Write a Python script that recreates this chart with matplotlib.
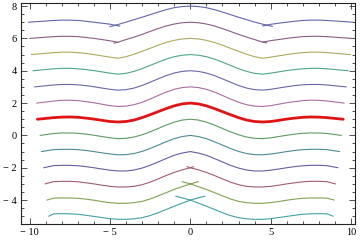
import numpy as np
import matplotlib.pyplot as plt
from matplotlib.ticker import MultipleLocator, FuncFormatter

# shared sample positions (x), each curve adds its own end points
grid = [-8.5, -8, -7.5, -7, -6.5, -6, -5.5, -5, -4.5, -4, -3.5, -3, -2.5, -2, -1.5, -1, -0.5, 0,
        0.5, 1, 1.5, 2, 2.5, 3, 3.5, 4, 4.5, 5, 5.5, 6, 6.5, 7, 7.5, 8, 8.5]

levels = [7, 6, 5, 4, 3, 2, 1, 0, -1, -2, -3, -4, -5]
x_left = [-10.08, -10.0, -9.9, -9.8, -9.7, -9.56, -9.52, -9.35, -9.27, -9.13, -9.04, -8.94, -8.82]
x_right = [10.14, 10.04, 9.98, 9.83, 9.71, 9.58, 9.52, 9.4, 9.29, 9.19, 9.04, 8.96, 8.9]

y7 = [7.11, 7.13, 7.13, 7.11, 7.06, 7.0, 6.94, 6.88, 6.86, 7.01, 7.16, 7.31, 7.47, 7.63, 7.78, 7.9, 7.97, 8.0,
      7.97, 7.9, 7.78, 7.63, 7.47, 7.31, 7.16, 7.01, 6.88, 6.87, 6.94, 7.0, 7.06, 7.11, 7.13, 7.13, 7.11]
y6 = [6.11, 6.13, 6.13, 6.11, 6.06, 6.0, 5.93, 5.85, 5.76, 5.93, 6.08, 6.25, 6.43, 6.61, 6.77, 6.89, 6.97, 7.0,
      6.97, 6.89, 6.77, 6.61, 6.43, 6.25, 6.08, 5.93, 5.77, 5.86, 5.93, 6.0, 6.06, 6.11, 6.13, 6.13, 6.11]
y5 = [5.12, 5.15, 5.15, 5.12, 5.07, 5.0, 4.92, 4.84, 4.77, 4.87, 5.02, 5.2, 5.39, 5.58, 5.75, 5.88, 5.97, 6.0,
      5.97, 5.88, 5.75, 5.58, 5.39, 5.2, 5.02, 4.87, 4.77, 4.84, 4.92, 5.0, 5.07, 5.12, 5.15, 5.15, 5.12]
y4 = [4.12, 4.15, 4.15, 4.12, 4.07, 4.01, 3.93, 3.85, 3.79, 3.84, 3.96, 4.13, 4.33, 4.53, 4.72, 4.87, 4.96, 5.0,
      4.96, 4.87, 4.72, 4.53, 4.33, 4.13, 3.96, 3.84, 3.79, 3.85, 3.93, 4.01, 4.07, 4.12, 4.15, 4.15, 4.12]
y3 = [3.12, 3.15, 3.15, 3.13, 3.08, 3.01, 2.93, 2.85, 2.8, 2.83, 2.93, 3.09, 3.29, 3.5, 3.7, 3.86, 3.96, 4.0,
      3.96, 3.86, 3.7, 3.5, 3.29, 3.09, 2.93, 2.83, 2.8, 2.85, 2.93, 3.01, 3.08, 3.13, 3.15, 3.15, 3.12]
y2 = [2.13, 2.17, 2.18, 2.15, 2.09, 2.02, 1.93, 1.84, 1.79, 1.81, 1.9, 2.05, 2.25, 2.47, 2.68, 2.85, 2.96, 3.0,
      2.96, 2.85, 2.68, 2.47, 2.25, 2.05, 1.9, 1.81, 1.79, 1.84, 1.93, 2.02, 2.09, 2.15, 2.18, 2.17, 2.13]
y1 = [1.1, 1.13, 1.14, 1.12, 1.07, 1.01, 0.93, 0.86, 0.83, 0.86, 0.95, 1.1, 1.28, 1.47, 1.66, 1.83, 1.95, 2.0,
      1.95, 1.83, 1.66, 1.47, 1.28, 1.1, 0.95, 0.86, 0.83, 0.86, 0.93, 1.01, 1.07, 1.12, 1.14, 1.13, 1.1]
y0 = [0.12, 0.15, 0.15, 0.13, 0.08, 0.01, -0.07, -0.15, -0.2, -0.18, -0.1, 0.04, 0.22, 0.43, 0.64, 0.82, 0.95, 1.0,
      0.95, 0.82, 0.64, 0.43, 0.22, 0.04, -0.1, -0.18, -0.2, -0.15, -0.07, 0.01, 0.08, 0.13, 0.15, 0.15, 0.12]
ym1 = [-0.88, -0.86, -0.86, -0.88, -0.93, -1.0, -1.08, -1.15, -1.2, -1.19, -1.12, -0.99, -0.81, -0.6, -0.39, -0.2, -0.07, 0.0,
       -0.07, -0.2, -0.39, -0.6, -0.81, -0.99, -1.12, -1.19, -1.2, -1.15, -1.08, -1.0, -0.93, -0.88, -0.86, -0.86, -0.88]
ym2 = [-1.87, -1.85, -1.85, -1.88, -1.93, -2.0, -2.08, -2.15, -2.2, -2.2, -2.14, -2.02, -1.85, -1.64, -1.43, -1.23, -1.09, -1.0,
       -1.09, -1.23, -1.43, -1.64, -1.85, -2.02, -2.14, -2.2, -2.2, -2.15, -2.08, -2.0, -1.93, -1.88, -1.85, -1.85, -1.87]
ym3 = [-2.86, -2.84, -2.84, -2.87, -2.93, -3.0, -3.08, -3.15, -3.19, -3.19, -3.15, -3.05, -2.89, -2.69, -2.48, -2.29, -2.13, -2.0,
       -2.13, -2.29, -2.48, -2.69, -2.89, -3.05, -3.15, -3.19, -3.19, -3.15, -3.08, -3.0, -2.93, -2.87, -2.84, -2.84, -2.86]
ym4 = [-3.88, -3.87, -3.87, -3.89, -3.94, -4.01, -4.09, -4.16, -4.2, -4.2, -4.16, -4.08, -3.93, -3.74, -3.54, -3.34, -3.17, -3.0,
       -3.17, -3.34, -3.54, -3.74, -3.93, -4.08, -4.16, -4.2, -4.2, -4.16, -4.09, -4.01, -3.94, -3.89, -3.87, -3.87, -3.88]
ym5 = [-4.85, -4.84, -4.85, -4.88, -4.94, -5.01, -5.08, -5.15, -5.19, -5.19, -5.16, -5.09, -4.96, -4.78, -4.58, -4.38, -4.19, -4.0,
       -4.19, -4.38, -4.58, -4.78, -4.96, -5.09, -5.16, -5.19, -5.19, -5.15, -5.08, -5.01, -4.94, -4.88, -4.85, -4.84, -4.85]
curves_y = [y7, y6, y5, y4, y3, y2, y1, y0, ym1, ym2, ym3, ym4, ym5]

# extra kink points of the top curve
kinks7 = [(-4.67, 6.81), (4.78, 6.82)]

# short overshoot strokes where branches cross: (curve index, x0, y0, x1, y1)
stubs = [
    (0, -4.67, 6.81, -4.4, 6.76), (0, -4.67, 6.81, -5.0, 6.73),
    (0, 4.78, 6.82, 4.5, 6.77), (0, 4.78, 6.82, 5.1, 6.74),
    (1, -4.5, 5.76, -4.75, 5.71), (1, 4.5, 5.77, 4.75, 5.72),
    (10, 0.0, -2.0, 0.2, -1.94), (10, 0.0, -2.0, -0.2, -1.94),
    (11, 0.0, -3.0, 0.5, -2.86), (11, 0.0, -3.0, -0.5, -2.86),
    (12, 0.0, -4.0, 0.9, -3.76), (12, 0.0, -4.0, -0.9, -3.76),
]

colors = ['#6464ac', '#8c5c84', '#acaa5c', '#50a68a', '#6868a8', '#ac6ca0', '#e01414',
          '#5c9c64', '#4c8c92', '#6a5ca2', '#a25a7a', '#82a252', '#44a2a2']

fig = plt.figure(figsize=(3.6, 2.4), dpi=100)
ax = fig.add_axes([21 / 360, 16 / 240, 334.3 / 360, 221 / 240])

for i, c in enumerate(levels):
    pts = [(x_left[i], c)] + list(zip(grid, curves_y[i])) + [(x_right[i], c)]
    if i == 0:
        pts = sorted(pts + kinks7)
    xs, ys = zip(*pts)
    lw = 2.0 if c == 1 else 0.8
    ax.plot(xs, ys, color=colors[i], lw=lw, solid_capstyle='round', zorder=3 if c == 1 else 2)

for i, x0, y0, x1, y1 in stubs:
    ax.plot([x0, x1], [y0, y1], color=colors[i], lw=0.8)

ax.set_xlim(-10.54, 10.27)
ax.set_ylim(-5.48, 8.19)
ax.set_xticks([-10, -5, 0, 5, 10])
ax.set_yticks([-4, -2, 0, 2, 4, 6, 8])
ax.xaxis.set_minor_locator(MultipleLocator(1))
ax.yaxis.set_minor_locator(MultipleLocator(0.5))

fmt = FuncFormatter(lambda v, p: f"\u2212 {abs(int(round(v)))}" if v < 0 else f"{int(round(v))}")
ax.xaxis.set_major_formatter(fmt)
ax.yaxis.set_major_formatter(fmt)

ax.tick_params(which='both', direction='in', top=True, right=True, width=0.6, color='#333333',
               labelsize=7.5, labelfontfamily='Liberation Serif', pad=3)
ax.tick_params(which='major', length=4)
ax.tick_params(which='minor', length=2)
for s in ax.spines.values():
    s.set_linewidth(0.8)
    s.set_color('#222222')

fig.savefig('out.png', dpi=100)
